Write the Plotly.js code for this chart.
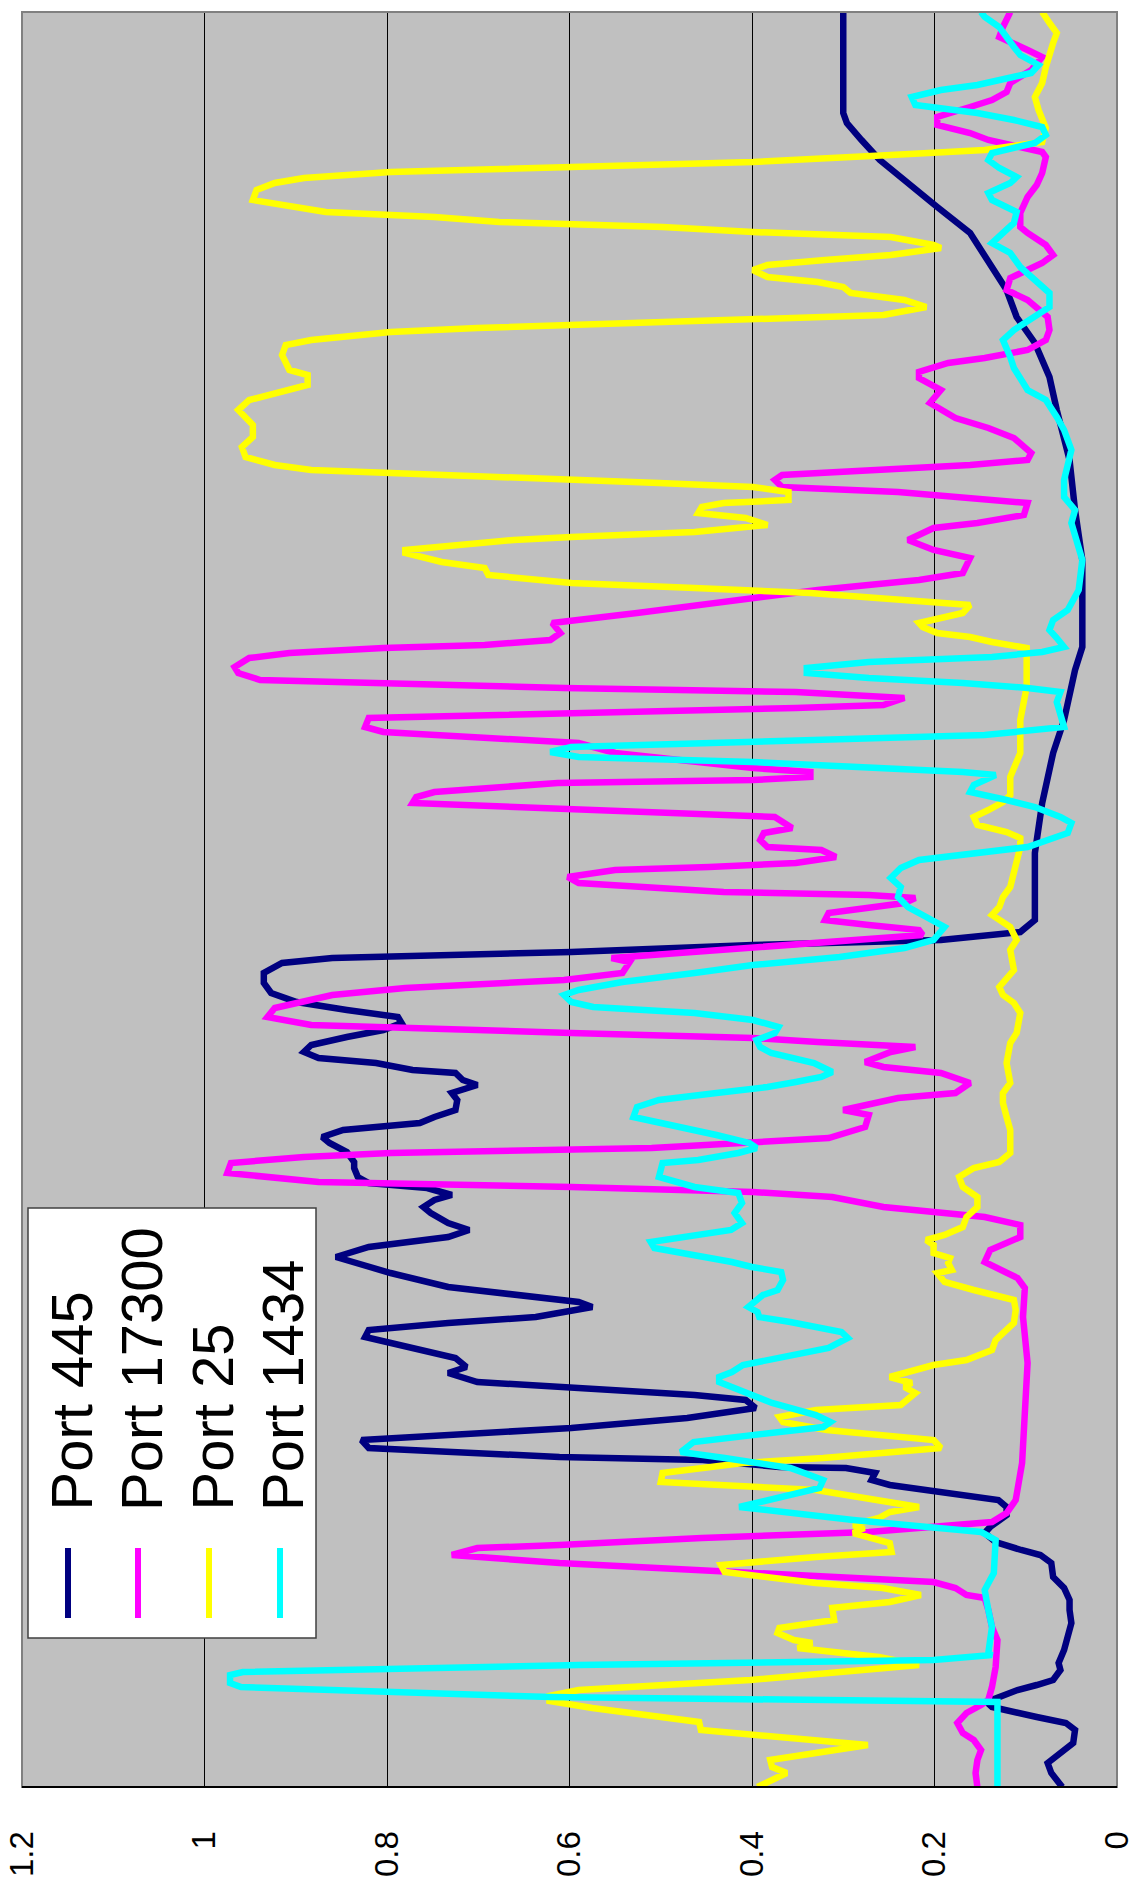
<!DOCTYPE html>
<html>
<head>
<meta charset="utf-8">
<script src="https://cdn.plot.ly/plotly-3.0.1.min.js"></script>
<style>
html,body{margin:0;padding:0;background:#fff;}
#chart{width:1134px;height:1886px;}
</style>
</head>
<body>
<div id="chart"></div>
<script>
// Time axis runs from bottom (start) to top (end); values are on the reversed horizontal axis.
const seriesNames = ["Port 445", "Port 17300", "Port 25", "Port 1434"];
const seriesColors = ["#000080", "#FF00FF", "#FFFF00", "#00FFFF"];
const tickVals = [0, 0.2, 0.4, 0.6, 0.8, 1, 1.2];
const tickText = ["0", "0.2", "0.4", "0.6", "0.8", "1", "1.2"];
const timeMax = 1775;

const t445 = [0,14,24,34,44,57,64,70,80,85,89,97,102,107,117,124,137,154,164,177,187,199,210,224,232,237,245,254,260,272,280,287,295,302,307,314,319,320,327,330,339,347,359,369,379,387,392,399,405,414,420,429,434,440,450,457,464,470,480,485,494,500,514,524,530,540,544,550,557,564,574,580,587,592,599,604,610,619,625,635,644,650,657,664,670,677,687,694,702,707,714,717,724,729,735,742,750,757,764,770,777,785,794,804,814,824,829,835,842,847,855,867,934,984,1034,1067,1117,1140,1177,1227,1277,1327,1377,1410,1444,1470,1497,1520,1554,1580,1604,1627,1647,1664,1674,1775];
const v445 = [0.060,0.072,0.076,0.062,0.048,0.046,0.056,0.088,0.137,0.143,0.133,0.109,0.088,0.070,0.062,0.064,0.058,0.054,0.050,0.052,0.052,0.058,0.070,0.072,0.084,0.105,0.133,0.145,0.139,0.121,0.121,0.130,0.201,0.249,0.269,0.265,0.297,0.370,0.454,0.611,0.820,0.828,0.598,0.471,0.396,0.407,0.463,0.598,0.701,0.733,0.713,0.725,0.748,0.780,0.824,0.820,0.733,0.637,0.575,0.590,0.669,0.733,0.796,0.836,0.856,0.820,0.780,0.733,0.710,0.733,0.752,0.760,0.748,0.729,0.756,0.820,0.832,0.836,0.836,0.844,0.863,0.871,0.848,0.764,0.748,0.725,0.723,0.729,0.701,0.717,0.725,0.772,0.812,0.875,0.891,0.883,0.844,0.804,0.784,0.788,0.844,0.899,0.927,0.935,0.935,0.915,0.860,0.598,0.399,0.193,0.106,0.090,0.090,0.082,0.070,0.058,0.046,0.038,0.038,0.038,0.046,0.052,0.066,0.074,0.090,0.110,0.121,0.137,0.161,0.197,0.229,0.260,0.280,0.296,0.300,0.300];

const t17300 = [0,14,27,37,47,54,64,74,82,87,100,120,147,160,177,189,192,199,205,215,224,232,239,242,249,255,262,265,274,287,324,424,470,499,509,519,525,537,542,550,562,570,580,590,595,600,605,614,624,630,634,639,649,660,672,677,689,694,704,714,720,725,735,740,745,749,754,762,770,779,792,799,807,814,825,829,852,857,862,867,874,880,884,889,892,895,904,910,917,920,924,930,937,940,947,954,959,970,977,984,990,995,1004,1007,1010,1015,1019,1034,1044,1055,1060,1069,1079,1082,1089,1095,1099,1104,1107,1114,1120,1129,1134,1139,1142,1147,1154,1164,1174,1197,1207,1214,1229,1237,1247,1259,1264,1272,1284,1295,1300,1307,1312,1322,1327,1334,1349,1359,1369,1384,1397,1409,1415,1424,1429,1437,1447,1457,1470,1487,1497,1509,1524,1532,1542,1554,1560,1574,1590,1602,1614,1630,1635,1647,1654,1662,1670,1680,1687,1695,1704,1717,1730,1737,1750,1760,1775];
const v17300 = [0.153,0.155,0.153,0.149,0.157,0.169,0.175,0.165,0.149,0.141,0.137,0.133,0.131,0.137,0.141,0.145,0.165,0.177,0.201,0.430,0.611,0.729,0.701,0.611,0.455,0.272,0.169,0.137,0.121,0.111,0.104,0.098,0.103,0.101,0.109,0.133,0.145,0.139,0.125,0.106,0.106,0.145,0.256,0.312,0.399,0.598,0.875,0.975,0.971,0.891,0.796,0.510,0.316,0.276,0.272,0.300,0.240,0.177,0.161,0.193,0.256,0.276,0.248,0.221,0.328,0.399,0.598,0.883,0.931,0.923,0.860,0.780,0.606,0.542,0.534,0.554,0.213,0.217,0.272,0.320,0.316,0.272,0.233,0.221,0.272,0.431,0.590,0.602,0.550,0.447,0.352,0.308,0.324,0.383,0.391,0.387,0.356,0.375,0.590,0.772,0.768,0.748,0.613,0.399,0.336,0.336,0.399,0.550,0.590,0.804,0.824,0.820,0.352,0.256,0.233,0.352,0.606,0.844,0.939,0.963,0.967,0.951,0.907,0.804,0.693,0.621,0.610,0.619,0.526,0.328,0.217,0.169,0.161,0.201,0.229,0.201,0.153,0.102,0.098,0.240,0.367,0.375,0.367,0.161,0.098,0.094,0.113,0.141,0.177,0.205,0.193,0.217,0.217,0.185,0.145,0.098,0.078,0.074,0.076,0.098,0.121,0.117,0.082,0.070,0.078,0.098,0.106,0.106,0.098,0.088,0.082,0.078,0.082,0.141,0.161,0.197,0.197,0.161,0.137,0.121,0.117,0.094,0.082,0.098,0.129,0.125,0.117];

const t25 = [0,14,20,27,34,42,57,65,79,86,91,97,107,122,130,139,144,147,154,159,167,179,185,192,199,204,215,222,230,235,244,254,259,262,269,275,280,290,297,305,314,324,329,339,347,357,365,370,377,382,394,400,404,410,422,427,437,447,457,464,477,487,497,505,514,517,524,529,534,542,547,552,560,570,580,590,600,610,619,625,634,657,670,684,694,704,724,744,754,774,784,792,800,809,817,837,847,860,872,880,890,900,914,940,949,955,962,970,977,985,992,1010,1034,1067,1100,1139,1145,1150,1154,1160,1164,1174,1182,1194,1199,1204,1212,1219,1225,1234,1237,1247,1250,1255,1262,1269,1274,1280,1284,1287,1295,1300,1304,1307,1314,1317,1322,1330,1340,1350,1362,1377,1387,1397,1402,1412,1417,1432,1442,1447,1455,1459,1462,1469,1472,1480,1487,1494,1500,1505,1510,1517,1522,1527,1532,1539,1542,1550,1555,1560,1565,1570,1575,1587,1597,1604,1609,1615,1620,1625,1632,1637,1645,1659,1677,1690,1704,1720,1744,1754,1764,1775];
const v25 = [0.394,0.362,0.378,0.380,0.330,0.273,0.456,0.458,0.575,0.622,0.622,0.590,0.402,0.217,0.261,0.350,0.334,0.354,0.372,0.370,0.310,0.312,0.249,0.215,0.257,0.330,0.430,0.434,0.330,0.247,0.249,0.289,0.277,0.289,0.261,0.249,0.217,0.285,0.330,0.500,0.498,0.410,0.322,0.193,0.201,0.318,0.366,0.370,0.330,0.237,0.221,0.233,0.225,0.249,0.201,0.165,0.137,0.133,0.121,0.113,0.111,0.113,0.157,0.189,0.197,0.181,0.185,0.183,0.201,0.201,0.209,0.189,0.169,0.165,0.153,0.153,0.169,0.173,0.157,0.129,0.117,0.117,0.121,0.125,0.125,0.117,0.121,0.117,0.110,0.106,0.113,0.125,0.129,0.121,0.113,0.117,0.110,0.117,0.137,0.129,0.125,0.117,0.113,0.106,0.106,0.121,0.153,0.157,0.141,0.125,0.117,0.117,0.106,0.106,0.099,0.099,0.137,0.161,0.197,0.213,0.217,0.169,0.161,0.336,0.463,0.598,0.689,0.693,0.740,0.780,0.780,0.661,0.598,0.463,0.383,0.407,0.459,0.455,0.431,0.360,0.360,0.399,0.502,0.598,0.796,0.883,0.923,0.955,0.959,0.947,0.947,0.963,0.951,0.907,0.887,0.887,0.907,0.915,0.911,0.883,0.796,0.701,0.598,0.399,0.256,0.209,0.233,0.292,0.300,0.328,0.383,0.399,0.383,0.320,0.248,0.193,0.201,0.248,0.399,0.498,0.677,0.748,0.867,0.947,0.943,0.923,0.891,0.796,0.598,0.399,0.248,0.145,0.082,0.078,0.086,0.090,0.082,0.078,0.070,0.066,0.074,0.082];

const t1434 = [0,85,90,100,104,112,115,122,127,132,134,160,177,197,214,247,255,259,267,280,292,299,307,319,329,335,345,352,360,365,372,384,394,405,410,415,422,432,439,449,455,465,470,475,480,492,497,507,515,520,525,539,545,557,564,574,584,594,600,610,624,627,634,639,644,652,664,670,680,687,694,700,705,710,715,724,734,740,747,754,760,767,774,780,785,792,797,805,814,822,830,839,847,860,870,880,890,900,909,919,927,940,954,964,970,980,987,995,1002,1012,1015,1020,1025,1030,1035,1040,1045,1052,1060,1074,1085,1095,1099,1104,1109,1114,1119,1125,1130,1135,1140,1149,1157,1167,1177,1197,1227,1264,1277,1290,1307,1337,1357,1370,1387,1397,1410,1419,1430,1447,1457,1470,1480,1494,1507,1520,1534,1544,1554,1564,1575,1587,1594,1604,1610,1619,1627,1634,1644,1652,1660,1667,1674,1682,1690,1697,1702,1707,1714,1722,1732,1740,1750,1760,1770,1775];
const v1434 = [0.131,0.131,0.621,0.960,0.972,0.972,0.958,0.590,0.201,0.137,0.141,0.137,0.141,0.145,0.135,0.133,0.149,0.201,0.289,0.414,0.358,0.326,0.322,0.358,0.430,0.478,0.464,0.398,0.322,0.314,0.330,0.378,0.404,0.436,0.436,0.422,0.410,0.358,0.316,0.295,0.302,0.358,0.392,0.394,0.404,0.388,0.372,0.366,0.368,0.400,0.422,0.507,0.511,0.423,0.411,0.419,0.411,0.415,0.463,0.502,0.498,0.459,0.415,0.395,0.403,0.439,0.502,0.530,0.526,0.502,0.439,0.383,0.352,0.324,0.312,0.332,0.379,0.391,0.395,0.375,0.371,0.399,0.463,0.574,0.598,0.606,0.590,0.542,0.463,0.399,0.304,0.233,0.201,0.189,0.209,0.229,0.240,0.237,0.248,0.237,0.217,0.098,0.054,0.050,0.062,0.090,0.121,0.161,0.157,0.133,0.169,0.296,0.399,0.590,0.621,0.598,0.399,0.145,0.058,0.062,0.066,0.062,0.098,0.169,0.272,0.340,0.340,0.272,0.137,0.082,0.058,0.066,0.074,0.070,0.054,0.042,0.038,0.050,0.046,0.058,0.058,0.050,0.058,0.066,0.078,0.098,0.106,0.113,0.117,0.125,0.113,0.090,0.074,0.074,0.090,0.106,0.117,0.137,0.125,0.113,0.110,0.137,0.141,0.117,0.110,0.129,0.141,0.137,0.090,0.078,0.082,0.113,0.153,0.221,0.225,0.193,0.153,0.129,0.094,0.086,0.106,0.113,0.121,0.129,0.145,0.149];

const timeSeries = [t445, t17300, t25, t1434];
const valueSeries = [v445, v17300, v25, v1434];

// ---- layout geometry (pixels) ----
const W = 1134, H = 1886;
const M = {l: 22, r: 17, t: 12, b: 99};
const plotW = W - M.l - M.r, plotH = H - M.t - M.b;
const px = x => (x - M.l) / plotW;
const py = y => (H - M.b - y) / plotH;

const traces = valueSeries.map((vals, i) => ({
  type: 'scatter', mode: 'lines',
  x: vals, y: timeSeries[i],
  name: seriesNames[i],
  line: {color: seriesColors[i], width: 6.5},
  hoverinfo: 'skip', showlegend: false
}));

const shapes = [
  {type:'rect', xref:'paper', yref:'paper', x0:0, x1:1, y0:0, y1:1, line:{color:'#808080', width:2}, layer:'above'},
  {type:'line', xref:'paper', yref:'paper', x0:0, x1:1, y0:0, y1:0, line:{color:'#000000', width:2}, layer:'above'},
  {type:'rect', xref:'paper', yref:'paper', x0:px(28), x1:px(316), y0:py(1638), y1:py(1208), fillcolor:'#ffffff', line:{color:'#404040', width:1.5}, layer:'above'}
];
const legendLineX = [68, 138, 209, 280];
const legendTextX = [71, 141, 212, 282];
const annotations = [];
seriesNames.forEach((name, i) => {
  shapes.push({type:'line', xref:'paper', yref:'paper', x0:px(legendLineX[i]), x1:px(legendLineX[i]), y0:py(1618), y1:py(1548), line:{color:seriesColors[i], width:6}, layer:'above'});
  annotations.push({xref:'paper', yref:'paper', x:px(legendTextX[i]), y:py(1513), xanchor:'center', yanchor:'bottom', text:name, textangle:-90, showarrow:false, font:{family:'Liberation Sans, Arial, sans-serif', size:58, color:'#000'}});
});

const layout = {
  width: W, height: H,
  margin: M,
  paper_bgcolor: '#ffffff', plot_bgcolor: '#C0C0C0',
  showlegend: false, hovermode: false,
  xaxis: {
    range: [1.2, 0], tickmode: 'array', tickvals: tickVals, ticktext: tickText, tickangle: -90,
    showgrid: true, gridcolor: '#000000', gridwidth: 1, zeroline: false,
    showline: false, ticks: 'outside', ticklen: 30, tickcolor: 'rgba(0,0,0,0)',
    ticklabeloverflow: 'allow',
    tickfont: {family: 'Liberation Sans, Arial, sans-serif', size: 33, color: '#000'},
    fixedrange: true
  },
  yaxis: {
    range: [0, timeMax], showgrid: false, zeroline: false, showticklabels: false,
    ticks: '', showline: false, fixedrange: true
  },
  shapes: shapes,
  annotations: annotations
};

Plotly.newPlot('chart', traces, layout, {staticPlot: true, displayModeBar: false});
</script>
</body>
</html>
